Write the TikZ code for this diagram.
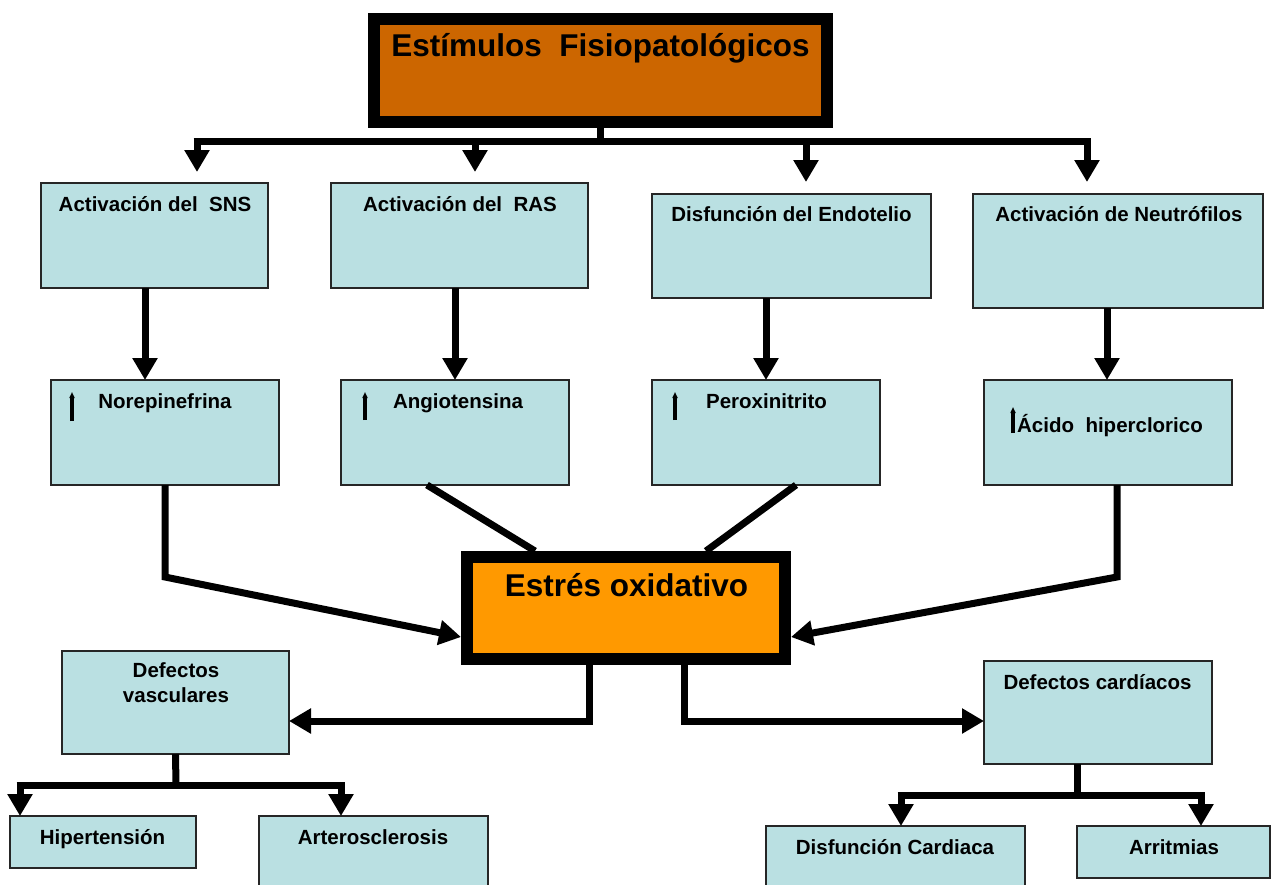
\documentclass[tikz,border=0pt]{standalone}
\usepackage{fontspec}
\setmainfont{Liberation Sans}
\usetikzlibrary{arrows.meta}
\definecolor{boxblue}{HTML}{BAE0E2}
\definecolor{titleor}{HTML}{CC6600}
\definecolor{estor}{HTML}{FF9900}
\tikzset{
  box/.style={draw=black!85, line width=2pt, fill=boxblue, inner sep=0pt, outer sep=0pt},
  bigbox/.style={draw=black, line width=12pt, inner sep=0pt, outer sep=0pt},
  txt/.style={anchor=base, inner sep=0pt, font=\fontsize{20.5}{24}\selectfont\bfseries},
  bigtxt/.style={anchor=base, inner sep=0pt, font=\fontsize{31.5}{36}\selectfont\bfseries},
  conn/.style={line width=7pt, line join=miter, line cap=butt},
  arr/.style={conn, -{Triangle[length=22pt,width=24pt]}},
  uparr/.style={line width=3.5pt, -{Triangle[length=6pt,width=5pt]}}
}
\begin{document}
\begin{tikzpicture}[x=1pt,y=-1pt]
\useasboundingbox (0,0) rectangle (1272,884);
% title and central box
\node[bigbox, fill=titleor, minimum width=453pt, minimum height=103pt] (title) at (600.5,70.5) {};
\node[bigtxt] (titletxt) at (600.5,56) {Estímulos\ \ Fisiopatológicos};
% row 1
\node[box, minimum width=227pt, minimum height=105pt] (sns) at (154.5,235.5) {};
\node[box, minimum width=257pt, minimum height=105pt] (ras) at (459.5,235.5) {};
\node[box, minimum width=279pt, minimum height=104pt] (endo) at (791.5,246) {};
\node[box, minimum width=290pt, minimum height=114pt] (neut) at (1118,251) {};
\node[txt] (snst) at (155,211) {Activación del\ \ SNS};
\node[txt] (rast) at (460,211) {Activación del\ \ RAS};
\node[txt] (endot) at (791.5,221) {Disfunción del Endotelio};
\node[txt] (neutt) at (1119,221) {Activación de Neutrófilos};
% row 2
\node[box, minimum width=228pt, minimum height=105pt] (nore) at (165,432.5) {};
\node[box, minimum width=228pt, minimum height=105pt] (angio) at (455,432.5) {};
\node[box, minimum width=228pt, minimum height=105pt] (perox) at (766,432.5) {};
\node[box, minimum width=248pt, minimum height=105pt] (acido) at (1108,432.5) {};
\node[txt] (noret) at (165,408) {Norepinefrina};
\node[txt] (angiot) at (458,408) {Angiotensina};
\node[txt] (peroxt) at (766.5,408) {Peroxinitrito};
\node[txt] (acidot) at (1110,432) {Ácido\ \ hiperclorico};
\draw[uparr] (72,421) -- (72,392);
\draw[uparr] (365,420) -- (365,392);
\draw[uparr] (675,420) -- (675,392);
\draw[uparr] (1013,433) -- (1013,407);
% oxidative stress
\node[bigbox, fill=estor, minimum width=318pt, minimum height=102pt] (estres) at (626,608) {};
\node[bigtxt] (estrest) at (626.5,596) {Estrés oxidativo};
% bottom boxes
\node[box, minimum width=227pt, minimum height=103pt] (vasc) at (175.5,702.5) {};
\node[txt] (vasct1) at (176,677) {Defectos};
\node[txt] (vasct2) at (176,702) {vasculares};
\node[box, minimum width=186pt, minimum height=52pt] (hiper) at (103,842) {};
\node[txt] (hipert) at (102.5,844) {Hipertensión};
\node[box, minimum width=229pt, minimum height=104pt] (artero) at (373.5,868) {};
\node[txt] (arterot) at (373,844) {Arterosclerosis};
\node[box, minimum width=228pt, minimum height=103pt] (card) at (1098,712.5) {};
\node[txt] (cardt) at (1097.5,689) {Defectos cardíacos};
\node[box, minimum width=259pt, minimum height=104pt] (disf) at (895.5,878) {};
\node[txt] (disft) at (895,854) {Disfunción Cardiaca};
\node[box, minimum width=193pt, minimum height=52pt] (arri) at (1173.5,852) {};
\node[txt] (arrit) at (1174,854) {Arritmias};
% connectors from title
\coordinate (busL) at (197,141);
\coordinate (busR) at (1087,141);
\draw[conn] (title.south) -- (title.south |- busL);
\draw[conn] ([xshift=-3.5pt]busL) -- ([xshift=3.5pt]busR);
\draw[arr] (busL) -- (197,172);
\draw[arr] (475,141) -- (475,172);
\draw[arr] (806,141) -- (806,182);
\draw[arr] (busR) -- (1087,182);
% row1 -> row2
\draw[arr] (145,0 |- sns.south) -- (145,0 |- nore.north);
\draw[arr] (455,0 |- ras.south) -- (455,0 |- angio.north);
\draw[arr] (766,0 |- endo.south) -- (766,0 |- perox.north);
\draw[arr] (1107,0 |- neut.south) -- (1107,0 |- acido.north);
% row2 -> estres
\draw[arr] (nore.south) -- (165,577) -- (461,637);
\draw[conn] (427,0 |- angio.south) -- (535,551);
\draw[conn] (796,0 |- perox.south) -- (706,551);
\draw[arr] (1117,0 |- acido.south) -- (1117,577) -- (791,637);
% estres -> defects
\draw[arr] (589,665) -- (589,721) -- (vasc.east |- 0,721);
\draw[arr] (684,665) -- (684,721) -- (card.west |- 0,721);
% vascular bus
\coordinate (vbus) at (176,785);
\draw[conn] (vasc.south) -- (vbus);
\draw[conn] (16.5,785) -- (344.5,785);
\draw[arr] (20,785) -- (20,0 |- hiper.north);
\draw[arr] (341,785) -- (341,0 |- artero.north);
% cardiac bus
\coordinate (cbus) at (1077,795);
\draw[conn] (1077,0 |- card.south) -- (cbus);
\draw[conn] (897.5,795) -- (1204.5,795);
\draw[arr] (901,795) -- (901,0 |- disf.north);
\draw[arr] (1201,795) -- (1201,0 |- arri.north);
\end{tikzpicture}
\end{document}
